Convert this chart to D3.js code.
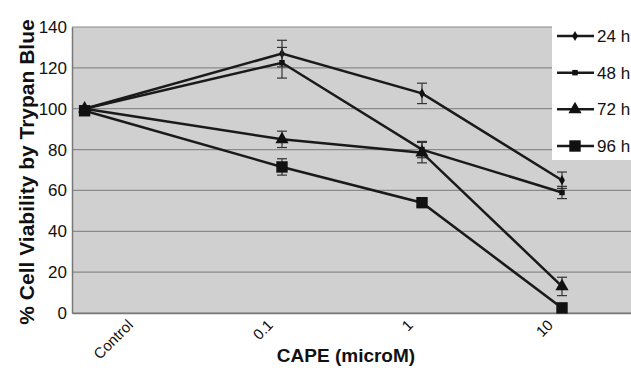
<!DOCTYPE html>
<html>
<head>
<meta charset="utf-8">
<script src="https://cdn.jsdelivr.net/npm/d3@7"></script>
<style>
  body { margin: 0; background: #fff; }
  svg { display: block; font-family: "Liberation Sans", Arial, sans-serif; }
</style>
</head>
<body>
<svg id="chart" width="631" height="385"></svg>
<script>
// Data
var categories = ["Control", "0.1", "1", "10"];
// where each dose's point sits on the category axis (control point is drawn left of its label)
var pointIndex = [-0.41, 1, 2, 3];
var seriesNames = ["24 h", "48 h", "72 h", "96 h"];
var values = {
  "24 h": [100, 127, 107.5, 65],
  "48 h": [100, 122.5, 80, 59],
  "72 h": [100, 85, 78.5, 13],
  "96 h": [99, 71.5, 54, 2.5]
};
var errors = {
  "24 h": [0, 6.5, 5, 4],
  "48 h": [0, 7.5, 4, 3],
  "72 h": [0, 4, 5, 4.5],
  "96 h": [0, 4, 2, 0]
};
var yTicks = [0, 20, 40, 60, 80, 100, 120, 140];

/////////////////////////////////////////////////////////////////////////////////////
// Margins
var svg = d3.select("#chart");
var margin = {left: 72, right: 0, top: 27, bottom: 72};
var w = 631, h = 385;
var graphic_w = 560;
var graphic_h = h - margin.top - margin.bottom;

var xBand = d3.scaleBand().domain(categories).range([margin.left, margin.left + graphic_w]);
var xScale = d3.scaleLinear().domain([0, 1]).range([xBand("Control") + xBand.bandwidth() / 2, xBand("0.1") + xBand.bandwidth() / 2]);
var yScale = d3.scaleLinear().domain([0, 140]).range([margin.top + graphic_h, margin.top]);

// plot background
svg.append("rect")
   .attr("x", margin.left).attr("y", margin.top)
   .attr("width", graphic_w).attr("height", graphic_h)
   .style("fill", "#d0d0d0");

// gridlines
svg.selectAll(".grid")
   .data(yTicks)
   .enter()
   .append("line")
   .attr("x1", margin.left).attr("x2", margin.left + graphic_w)
   .attr("y1", function(d) { return yScale(d); })
   .attr("y2", function(d) { return yScale(d); })
   .style("stroke", "#8a8a8a")
   .style("stroke-width", 1.2);

// y axis
var yAxis = svg.append("g")
   .attr("transform", "translate(" + margin.left + ",0)")
   .call(d3.axisLeft(yScale).tickValues(yTicks).tickSize(0).tickPadding(5));
yAxis.select(".domain").style("stroke", "#777").style("stroke-width", 1.5);
yAxis.selectAll("text").style("font-size", "17px").style("fill", "#111");

// x axis
var xAxis = svg.append("g")
   .attr("transform", "translate(0," + (margin.top + graphic_h) + ")")
   .call(d3.axisBottom(xBand).tickSize(0).tickPadding(0));
xAxis.select(".domain").style("stroke", "#777").style("stroke-width", 1.5);
xAxis.selectAll("text")
   .style("font-size", "15px").style("fill", "#111")
   .attr("text-anchor", "end")
   .attr("dy", 0).attr("y", 0)
   .attr("transform", "translate(-8,13) rotate(-45)");

// titles
svg.append("text")
   .attr("transform", "translate(34," + (margin.top + graphic_h / 2 + 2) + ") rotate(-90)")
   .attr("text-anchor", "middle")
   .style("font-size", "21px").style("font-weight", "bold").style("fill", "#111")
   .text("% Cell Viability by Trypan Blue");
svg.append("text")
   .attr("x", 346).attr("y", 362)
   .attr("text-anchor", "middle")
   .style("font-size", "19px").style("font-weight", "bold").style("fill", "#111")
   .text("CAPE (microM)");

/////////////////////////////////////////////////////////////////////////////////////
// Series
var line = d3.line()
   .x(function(d, i) { return xScale(pointIndex[i]); })
   .y(function(d) { return yScale(d); });

var symbols = {
  "24 h": d3.symbol().type(d3.symbolDiamond).size(30),
  "48 h": d3.symbol().type(d3.symbolSquare).size(30),
  "72 h": d3.symbol().type(d3.symbolTriangle).size(75),
  "96 h": d3.symbol().type(d3.symbolSquare).size(130)
};

seriesNames.forEach(function(name) {
  var vals = values[name];
  svg.append("path")
     .attr("d", line(vals))
     .style("fill", "none")
     .style("stroke", "#1a1a1a")
     .style("stroke-width", 2.5);

  // error bars
  vals.forEach(function(v, i) {
    var e = errors[name][i];
    if (!e) return;
    var x = xScale(pointIndex[i]);
    var g = svg.append("g").style("stroke", "#333").style("stroke-width", 1.2);
    g.append("line").attr("x1", x).attr("x2", x).attr("y1", yScale(v + e)).attr("y2", yScale(v - e));
    g.append("line").attr("x1", x - 5).attr("x2", x + 5).attr("y1", yScale(v + e)).attr("y2", yScale(v + e));
    g.append("line").attr("x1", x - 5).attr("x2", x + 5).attr("y1", yScale(v - e)).attr("y2", yScale(v - e));
  });

  svg.selectAll(null)
     .data(vals)
     .enter()
     .append("path")
     .attr("d", symbols[name])
     .attr("transform", function(d, i) { return "translate(" + xScale(pointIndex[i]) + "," + yScale(d) + ")"; })
     .style("fill", "#111");
});

/////////////////////////////////////////////////////////////////////////////////////
// Legend
var legend = svg.append("g");
legend.append("rect")
   .attr("x", 552).attr("y", 0).attr("width", 79).attr("height", 160)
   .style("fill", "#fff");
var legendY = d3.scalePoint().domain(seriesNames).range([36, 146]);
seriesNames.forEach(function(name) {
  var y = legendY(name);
  legend.append("line")
     .attr("x1", 557).attr("x2", 594).attr("y1", y).attr("y2", y)
     .style("stroke", "#1a1a1a").style("stroke-width", 2.5);
  legend.append("path")
     .attr("d", symbols[name])
     .attr("transform", "translate(575," + y + ")")
     .style("fill", "#111");
  legend.append("text")
     .attr("x", 597).attr("y", y + 6)
     .style("font-size", "17px").style("fill", "#111")
     .text(name);
});
</script>
</body>
</html>
